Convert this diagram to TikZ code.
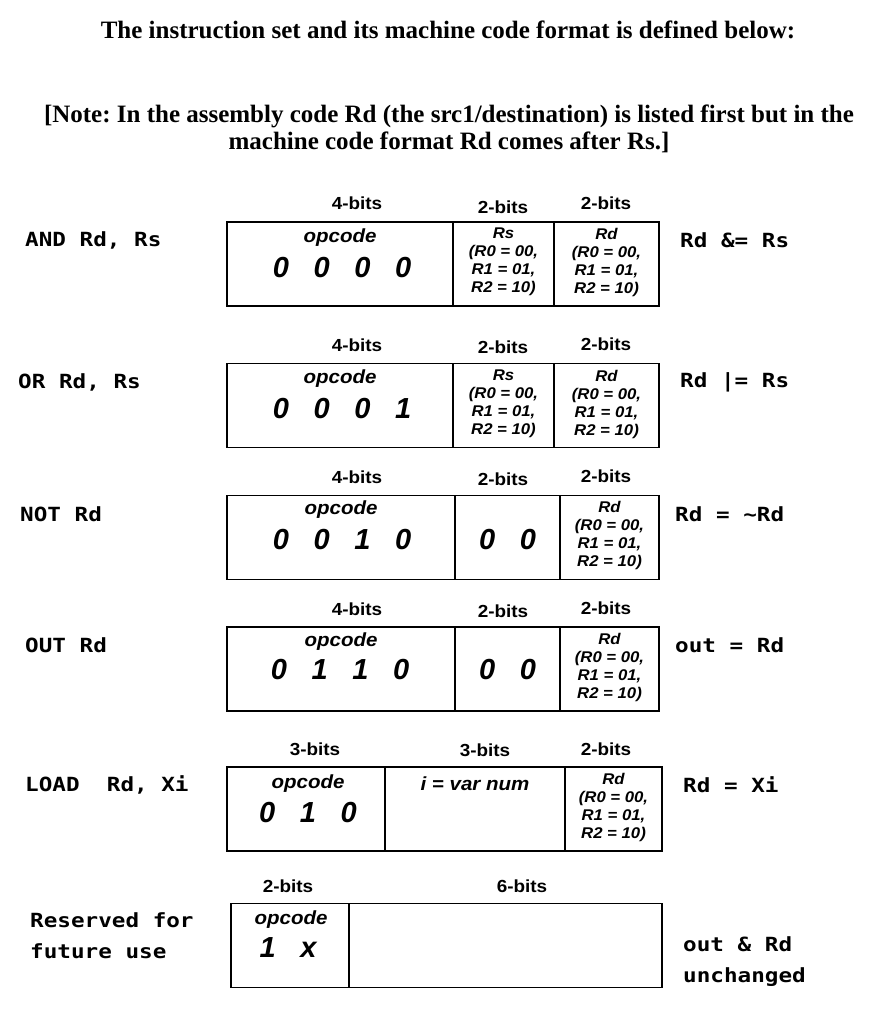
\documentclass[tikz,border=0pt]{standalone}
\usepackage{fontspec}
\setmainfont{Liberation Serif}
\newfontfamily\codefont{DejaVu Sans Mono}[FakeStretch=1.16]
\newfontfamily\fieldfont{Liberation Sans}[FakeStretch=1.08]
\newfontfamily\digfont{Liberation Sans}
\usetikzlibrary{positioning}
\newcommand{\dgap}{\hspace{.85em}}
\frenchspacing

\begin{document}
\begin{tikzpicture}[x=1pt, y=-1pt,
  title/.style={font=\fontsize{25}{29}\selectfont\bfseries, inner sep=0pt},
  note/.style={font=\fontsize{25}{27}\selectfont\bfseries, align=center, inner sep=0pt},
  asm/.style={anchor=west, font=\fontsize{19.5}{31}\selectfont\codefont\bfseries,
              align=left, inner sep=0pt},
  bits/.style={font=\fontsize{17.5}{18}\selectfont\fieldfont\bfseries, inner sep=0pt},
  fld/.style={draw, line width=1.2pt, minimum height=84pt, inner sep=0pt, outer sep=0pt},
  opc/.style={font=\fontsize{19}{20}\selectfont\fieldfont\bfseries\itshape, inner sep=0pt},
  dig/.style={font=\fontsize{29}{32}\selectfont\digfont\bfseries\itshape, inner sep=0pt},
  reg/.style={anchor=north, font=\fontsize{15.5}{18}\selectfont\fieldfont\bfseries\itshape,
              align=center, inner sep=0pt}]
\useasboundingbox (0,0) rectangle (877,1024);
% heading
\node[title] (head) at (448,30) {The instruction set and its machine code format is defined below:};
\node[note] (remark) at (449,129) {[Note: In the assembly code Rd (the src1/destination) is listed first but in the\\
  machine code format Rd comes after Rs.]};
% AND
\node[bits] (and-b1) at (357,203) {4-bits};
\node[bits] (and-b2) at (503,207) {2-bits};
\node[bits] (and-b3) at (606,203) {2-bits};
\node[fld, minimum width=226pt] (and-op) at (340,264) {};
\node[fld, minimum width=101pt, right=0pt of and-op] (and-rs) {};
\node[fld, minimum width=105pt, right=0pt of and-rs] (and-rd) {};
\node[opc] (and-opc) at (340,238) {opcode};
\node[dig] (and-dig) at (342,268) {0\dgap0\dgap0\dgap0};
\node[reg] (and-rs-t) at (and-rs.center |- 0,228) {Rs\\(R0 = 00,\\R1 = 01,\\R2 = 10)};
\node[reg] (and-rd-t) at (and-rd.center |- 0,228) {Rd\\(R0 = 00,\\R1 = 01,\\R2 = 10)};
\node[asm] (and-asm) at (25,240) {AND Rd, Rs};
\node[asm] (and-op-r) at (680,240) {Rd \&= Rs};
% OR
\node[bits] (or-b1) at (357,345) {4-bits};
\node[bits] (or-b2) at (503,347) {2-bits};
\node[bits] (or-b3) at (606,344) {2-bits};
\node[fld, minimum width=226pt] (or-op) at (340,405.5) {};
\node[fld, minimum width=101pt, right=0pt of or-op] (or-rs) {};
\node[fld, minimum width=105pt, right=0pt of or-rs] (or-rd) {};
\node[opc] (or-opc) at (340,379) {opcode};
\node[dig] (or-dig) at (342,409) {0\dgap0\dgap0\dgap1};
\node[reg] (or-rs-t) at (or-rs.center |- 0,370) {Rs\\(R0 = 00,\\R1 = 01,\\R2 = 10)};
\node[reg] (or-rd-t) at (or-rd.center |- 0,370) {Rd\\(R0 = 00,\\R1 = 01,\\R2 = 10)};
\node[asm] (or-asm) at (18,382) {OR Rd, Rs};
\node[asm] (or-op-r) at (680,382) {Rd |= Rs};
% NOT
\node[bits] (not-b1) at (357,477) {4-bits};
\node[bits] (not-b2) at (503,479) {2-bits};
\node[bits] (not-b3) at (606,476) {2-bits};
\node[fld, minimum width=228pt] (not-op) at (341,537.5) {};
\node[fld, minimum width=105pt, right=0pt of not-op] (not-mid) {};
\node[fld, minimum width=99pt, right=0pt of not-mid] (not-rd) {};
\node[opc] (not-opc) at (341,510) {opcode};
\node[dig] (not-dig) at (342,540) {0\dgap0\dgap1\dgap0};
\node[dig] (not-zz) at (not-mid.center |- 0,540) {0\dgap0};
\node[reg] (not-rd-t) at (not-rd.center |- 0,501) {Rd\\(R0 = 00,\\R1 = 01,\\R2 = 10)};
\node[asm] (not-asm) at (20,514) {NOT Rd};
\node[asm] (not-op-r) at (675,514) {Rd = \textasciitilde Rd};
% OUT
\node[bits] (out-b1) at (357,609) {4-bits};
\node[bits] (out-b2) at (503,611) {2-bits};
\node[bits] (out-b3) at (606,608) {2-bits};
\node[fld, minimum width=228pt] (out-op) at (341,669) {};
\node[fld, minimum width=105pt, right=0pt of out-op] (out-mid) {};
\node[fld, minimum width=99pt, right=0pt of out-mid] (out-rd) {};
\node[opc] (out-opc) at (341,642) {opcode};
\node[dig] (out-dig) at (340,670) {0\dgap1\dgap1\dgap0};
\node[dig] (out-zz) at (out-mid.center |- 0,670) {0\dgap0};
\node[reg] (out-rd-t) at (out-rd.center |- 0,633) {Rd\\(R0 = 00,\\R1 = 01,\\R2 = 10)};
\node[asm] (out-asm) at (25,645) {OUT Rd};
\node[asm] (out-op-r) at (675,645) {out = Rd};
% LOAD
\node[bits] (ld-b1) at (315,749) {3-bits};
\node[bits] (ld-b2) at (485,750) {3-bits};
\node[bits] (ld-b3) at (606,749) {2-bits};
\node[fld, minimum width=158pt] (ld-op) at (306,809) {};
\node[fld, minimum width=180pt, right=0pt of ld-op] (ld-var) {};
\node[fld, minimum width=97pt, right=0pt of ld-var] (ld-rd) {};
\node[opc] (ld-opc) at (308,784) {opcode};
\node[dig] (ld-dig) at (308,813) {0\dgap1\dgap0};
\node[opc] (ld-var-t) at (ld-var.center |- 0,784) {i = var num};
\node[reg] (ld-rd-t) at (ld-rd.center |- 0,773) {Rd\\(R0 = 00,\\R1 = 01,\\R2 = 10)};
\node[asm] (ld-asm) at (25,785) {LOAD~~Rd, Xi};
\node[asm] (ld-op-r) at (683,785) {Rd = Xi};
% reserved
\node[bits] (rs-b1) at (288,886) {2-bits};
\node[bits] (rs-b2) at (522,886) {6-bits};
\node[fld, minimum width=118pt] (rs-op) at (290,945.5) {};
\node[fld, minimum width=313pt, right=0pt of rs-op] (rs-free) {};
\node[opc] (rs-opc) at (291,920) {opcode};
\node[dig] (rs-dig) at (288,948) {1\dgap x};
\node[asm] (rs-asm) at (30,936) {Reserved for\\future use};
\node[asm] (rs-op-r) at (683,962) {out \& Rd\\unchanged};
\end{tikzpicture}
\end{document}
